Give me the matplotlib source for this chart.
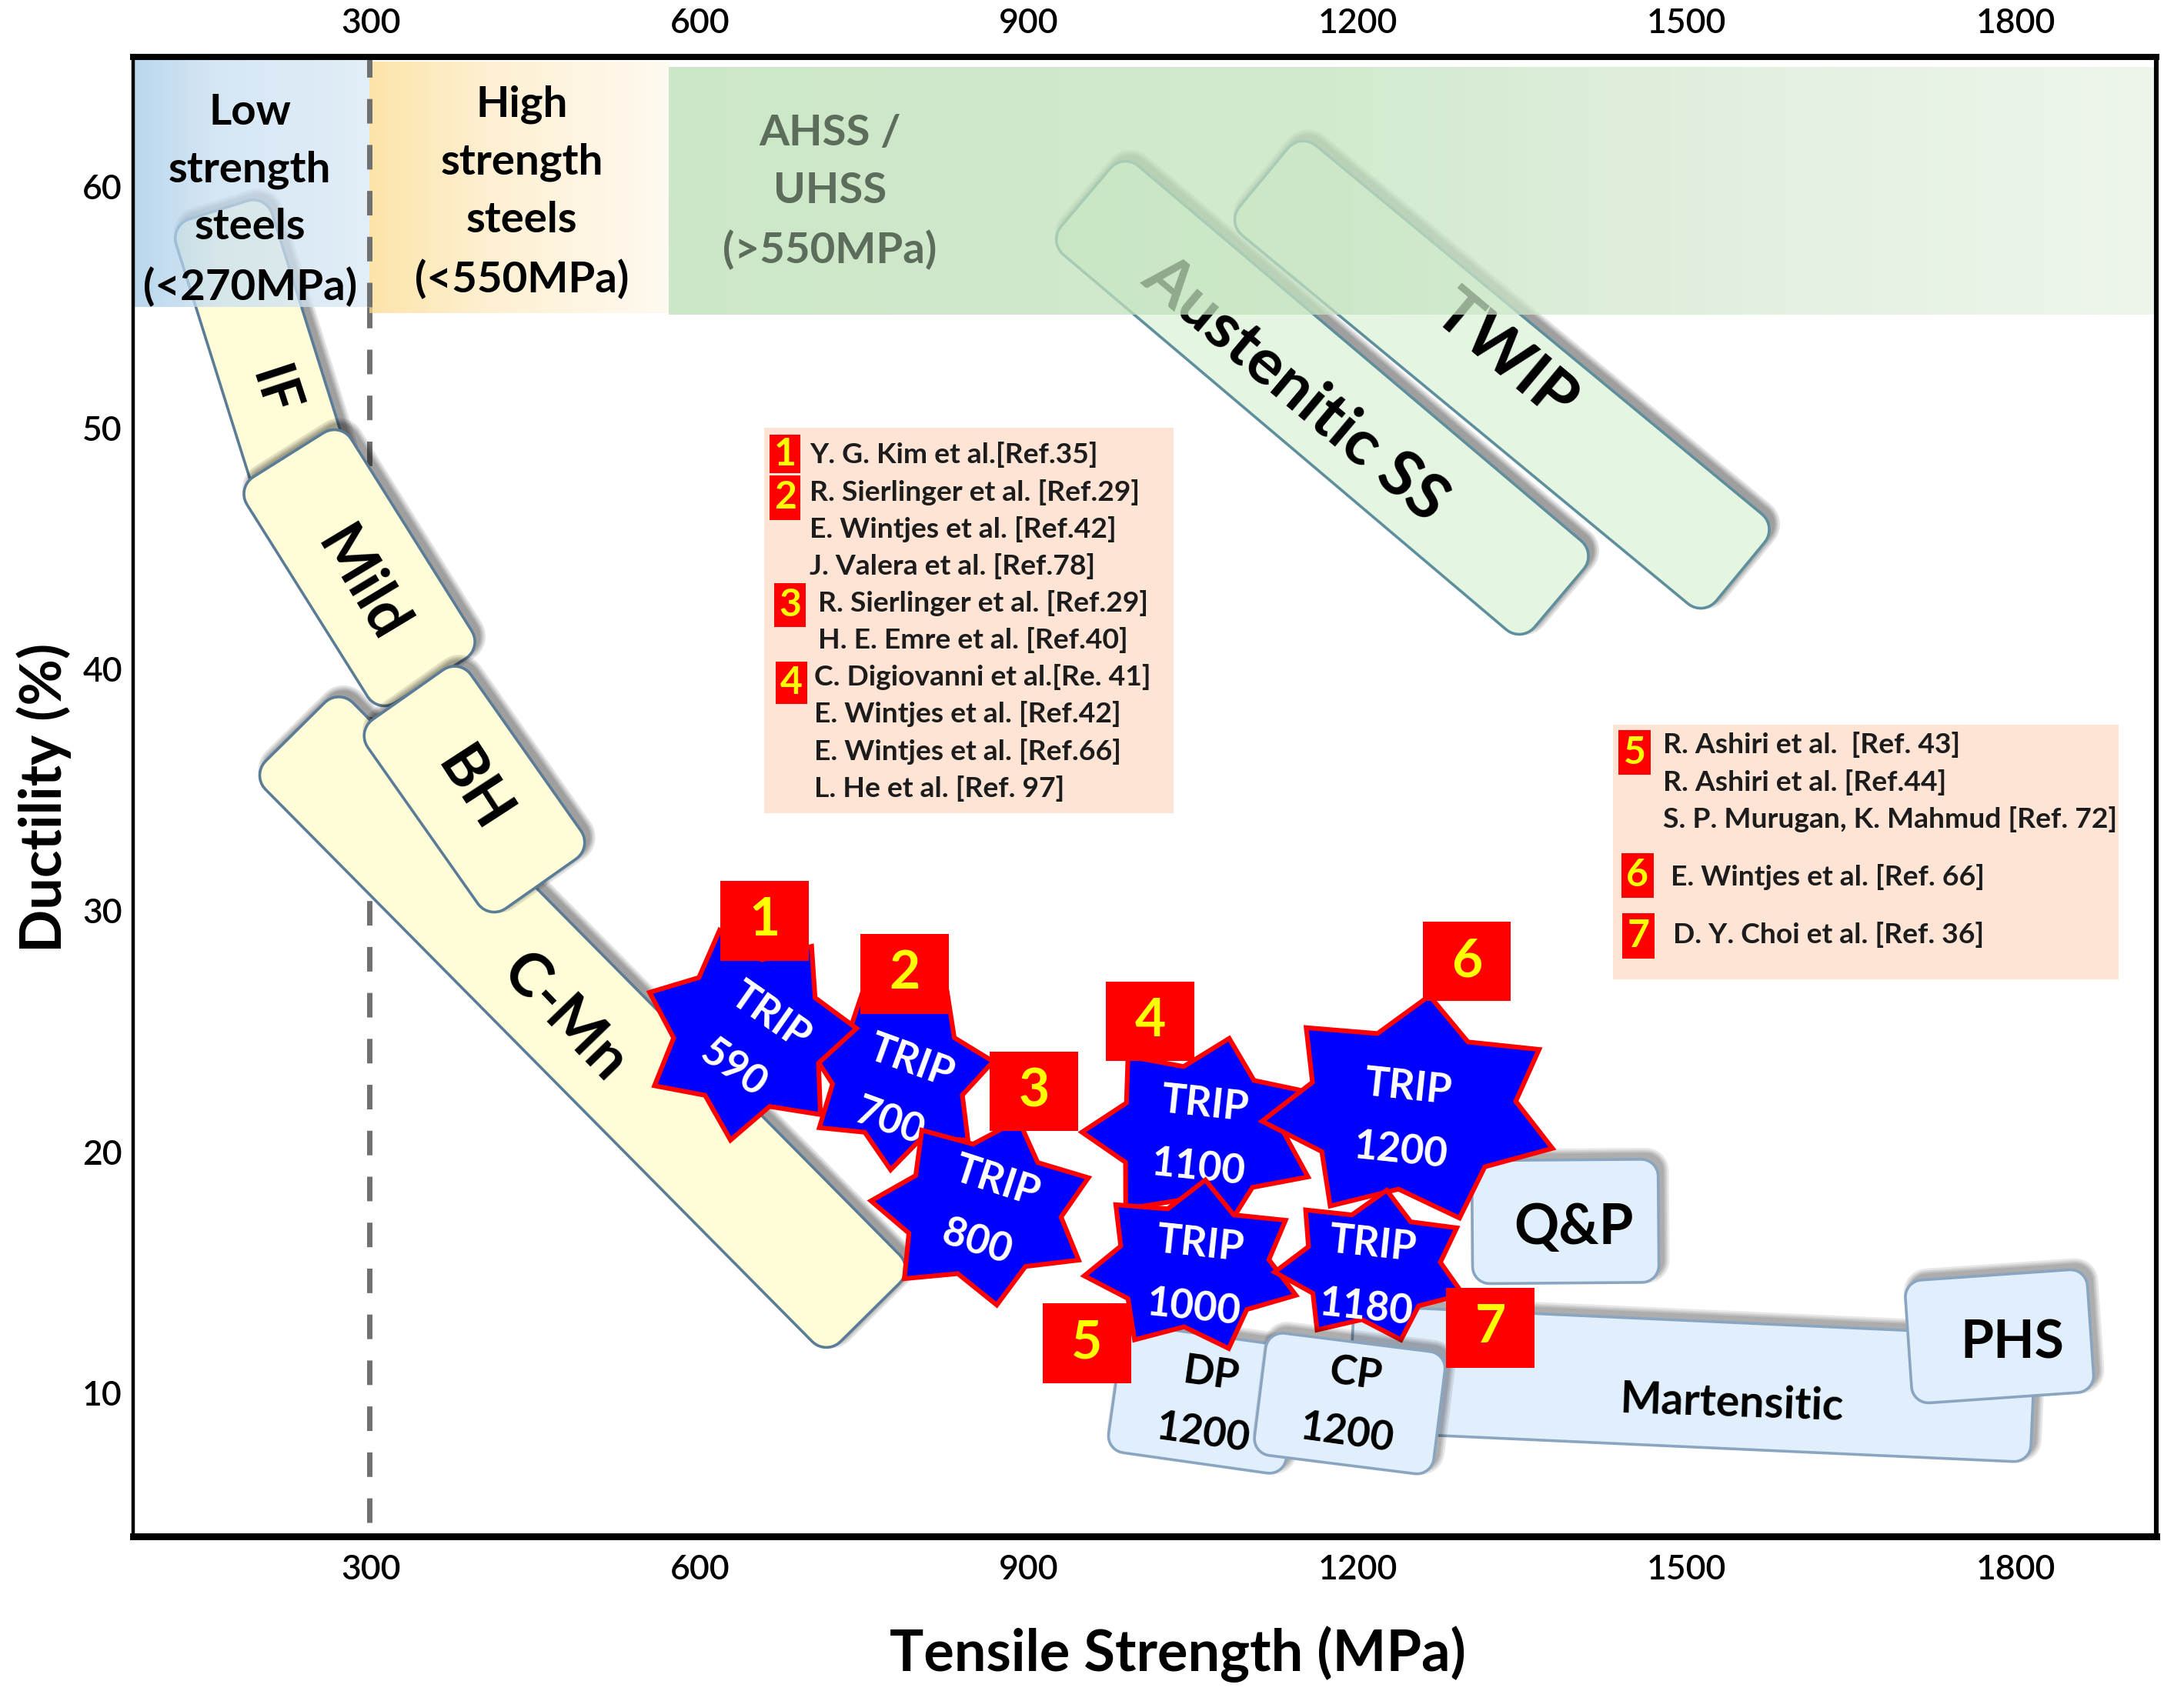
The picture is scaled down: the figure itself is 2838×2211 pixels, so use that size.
import numpy as np
import matplotlib
matplotlib.use("Agg")
import matplotlib.pyplot as plt
from matplotlib.colors import to_rgb
from matplotlib.patches import Polygon, Rectangle

plt.rcParams['font.family'] = ['Lato', 'DejaVu Sans']

# axis ticks
x_ticks = [300, 600, 900, 1200, 1500, 1800]
y_ticks = [10, 20, 30, 40, 50, 60]

# strength classes along the top of the chart
class_labels = ['Low\nstrength\nsteels\n(<270MPa)', 'High\nstrength\nsteels\n(<550MPa)',
                'AHSS /\nUHSS\n(>550MPa)']
class_from = [83.3, 298.5, 571.8]
class_to = [298.5, 571.8, 1928.3]
class_low = [55.0, 54.75, 54.7]
class_high = [65.3, 65.15, 64.95]
class_label_mpa = [189.5, 437.7, 718.7]
class_label_duct = [59.45, 59.77, 59.77]
split_mpa = 298.5

# steel families: centre line of each band, start and end (MPa, %)
steel_names = ['IF', 'Mild', 'C-Mn', 'BH', 'Austenitic SS', 'TWIP',
               'Martensitic', 'PHS', 'Q&P', 'DP\n1200', 'CP\n1200']
steel_mpa0 = [160.6, 224.7, 230.8, 333.6, 951.8, 1114.1, 1193.9, 1702.3, 1304.4, 978.8, 1110.9]
steel_duct0 = [59.03, 48.88, 37.40, 38.94, 59.55, 60.37, 11.02, 12.09, 17.08, 10.26, 10.03]
steel_mpa1 = [239.1, 354.1, 755.1, 455.0, 1383.6, 1549.0, 1815.9, 1868.3, 1474.3, 1140.8, 1274.4]
steel_duct1 = [47.69, 39.52, 13.34, 31.11, 42.94, 44.04, 9.74, 12.61, 17.14, 9.22, 9.10]
steel_label_mpa = [210.4, 290.8, 476.1, 393.0, 1142.8, 1334.4, 1541.3, 1796.8, 1396.9, 1062.4, 1194.0]
steel_label_duct = [51.49, 43.49, 25.52, 34.97, 51.61, 52.94, 9.57, 12.06, 16.82, 9.55, 9.55]

# TRIP grades (drawing order)
trip_names = ['TRIP\n700', 'TRIP\n590', 'TRIP\n800', 'TRIP\n1100', 'TRIP\n1000', 'TRIP\n1200', 'TRIP\n1180']
trip_mpa = [781.3, 644.7, 858.0, 1057.2, 1049.6, 1248.8, 1213.1]
trip_duct = [23.19, 24.88, 17.57, 20.76, 15.25, 21.75, 15.25]
trip_label_mpa = [782.6, 647.2, 861.8, 1057.2, 1053.4, 1242.4, 1210.5]
trip_label_duct = [22.49, 24.53, 17.51, 20.64, 14.84, 21.34, 14.84]

# numbered reference markers
marker_ids = ['1', '2', '3', '4', '5', '6', '7']
marker_mpa = [658.7, 786.4, 904.7, 1010.6, 953.1, 1299.4, 1321.0]
marker_duct = [29.57, 27.37, 22.50, 25.40, 12.06, 27.89, 12.70]

# reference lists
refs_a = ['Y. G. Kim et al.[Ref.35]', 'R. Sierlinger et al. [Ref.29]', 'E. Wintjes et al. [Ref.42]',
          'J. Valera et al. [Ref.78]', 'R. Sierlinger et al. [Ref.29]', 'H. E. Emre et al. [Ref.40]',
          'C. Digiovanni et al.[Re. 41]', 'E. Wintjes et al. [Ref.42]', 'E. Wintjes et al. [Ref.66]',
          'L. He et al. [Ref. 97]']
refs_a_mpa = [700.3, 700.3, 700.3, 700.3, 707.9, 707.9, 704.2, 704.2, 704.2, 704.2]
refs_a_duct = [48.88, 47.34, 45.81, 44.27, 42.74, 41.20, 39.66, 38.13, 36.59, 35.05]
refs_a_ids = ['1', '2', '3', '4']
refs_a_id_mpa = [677.6, 677.6, 682.1, 683.6]
refs_a_id_duct = [48.92, 47.11, 42.66, 39.43]
refs_a_id_h = [1.59, 1.86, 1.80, 1.74]

refs_b = ['R. Ashiri et al.  [Ref. 43]', 'R. Ashiri et al. [Ref.44]', 'S. P. Murugan, K. Mahmud [Ref. 72]',
          'E. Wintjes et al. [Ref. 66]', 'D. Y. Choi et al. [Ref. 36]']
refs_b_mpa = [1478.3, 1478.3, 1478.3, 1485.1, 1487.7]
refs_b_duct = [36.88, 35.31, 33.77, 31.39, 28.99]
refs_b_ids = ['5', '6', '7']
refs_b_id_mpa = [1452.6, 1455.1, 1455.8]
refs_b_id_duct = [36.54, 31.45, 28.94]

ref_box_a = (658.7, 1031.7, 34.04, 49.99)
ref_box_b = (1432.7, 1893.8, 27.14, 37.69)

# ---- styles ----
cream, green, blue = '#fffcd8', '#e4f6e1', '#e1eefb'
steel_thick = [131, 160, 160, 164, 151, 151, 164, 160, 160, 167, 160]
steel_face = [cream] * 4 + [green] * 2 + [blue] * 5
steel_edge = ['#5b7c96'] * 4 + ['#5f8f9c'] * 2 + ['#8aa5c0'] * 5
steel_fs = [26, 28, 28, 28, 30, 30, 20.5, 25, 26, 19, 19]
steel_rot = [-72, -59, -46, -57, -40, -40, -2, 0, 0, -8, -8]
steel_z = [2.0, 2.1, 2.2, 2.3, 2.4, 2.5, 4.0, 4.1, 4.2, 4.3, 6.0]
steel_rad = [26] * 6 + [22] * 5
steel_shadow = [0.11] * 6 + [0.09] * 5

trip_rx = [124, 140, 146, 155, 142, 195, 127]
trip_ry = [124, 140, 124, 127, 113, 149, 100]
trip_th0 = [8, 3, 20, 25, 32, 31.6, 30]
trip_rot = [-20, -35, -18, -6, -6, -6, -6]

fig = plt.figure(figsize=(14.19, 11.055), dpi=200)
ax = fig.add_axes([0.0611, 0.0968, 0.9262, 0.8697])
ax.set_xlim(83.3, 1928.3)
ax.set_ylim(4.06, 65.37)
ax.set_autoscale_on(False)
inv = ax.transData.inverted()
px = fig.dpi / 200.0


def rounded_rect(cx, cy, length, width, ang, r, n=10):
    hl, hw = length / 2, width / 2
    r = min(r, hl, hw)
    pts = []
    for sx, sy, a0 in [(hl - r, hw - r, 0), (-hl + r, hw - r, 90),
                       (-hl + r, -hw + r, 180), (hl - r, -hw + r, 270)]:
        t = np.radians(np.linspace(a0, a0 + 90, n))
        pts.append(np.column_stack([sx + r * np.cos(t), sy + r * np.sin(t)]))
    pts = np.vstack(pts)
    c, s = np.cos(ang), np.sin(ang)
    return pts @ np.array([[c, s], [-s, c]]) + [cx, cy]


def draw_box(i):
    p0 = ax.transData.transform((steel_mpa0[i], steel_duct0[i]))
    p1 = ax.transData.transform((steel_mpa1[i], steel_duct1[i]))
    d = p1 - p0
    L = np.hypot(*d)
    ang = np.arctan2(d[1], d[0])
    c = (p0 + p1) / 2
    w = steel_thick[i] * px
    r = steel_rad[i] * px
    z = steel_z[i]
    # soft shadow to the upper right
    for e in [16, 11, 7, 3]:
        pts = rounded_rect(c[0] + 6 * px, c[1] + 7 * px, L + e * px, w + e * px, ang, r + e * px / 2)
        ax.add_patch(Polygon(inv.transform(pts), closed=True, fc='black', ec='none',
                             alpha=steel_shadow[i], zorder=z - 0.01))
    pts = rounded_rect(c[0], c[1], L, w, ang, r)
    ax.add_patch(Polygon(inv.transform(pts), closed=True, fc=steel_face[i], ec=steel_edge[i],
                         lw=1.3, zorder=z))
    ax.text(steel_label_mpa[i], steel_label_duct[i], steel_names[i], fontsize=steel_fs[i],
            fontweight='bold', rotation=steel_rot[i], rotation_mode='anchor', ha='center',
            va='center', multialignment='center', linespacing=1.7, color='black', zorder=z + 0.05)


def draw_star(i):
    p = ax.transData.transform((trip_mpa[i], trip_duct[i]))
    k = np.arange(14)
    ang = np.radians(trip_th0[i] + k * 360 / 14)
    rr = np.where(k % 2 == 0, 1.0, 0.7)
    pts = np.column_stack([p[0] + trip_rx[i] * px * rr * np.cos(ang),
                           p[1] + trip_ry[i] * px * rr * np.sin(ang)])
    z = 5 + 0.1 * i
    ax.add_patch(Polygon(inv.transform(pts), closed=True, fc='#0000ff', ec='#ff0000',
                         lw=2.2, joinstyle='miter', zorder=z))
    ax.text(trip_label_mpa[i], trip_label_duct[i], trip_names[i], fontsize=19, fontweight='bold',
            color='white', rotation=trip_rot[i], rotation_mode='anchor', ha='center', va='center',
            multialignment='center', linespacing=1.85, zorder=z + 0.05)


def gradient_band(x0, x1, y0, y1, stops, alpha=0.75, z=3):
    xs = np.linspace(0, 1, 256)
    pos = [s[0] for s in stops]
    cols = np.array([to_rgb(s[1]) for s in stops])
    rgb = np.column_stack([np.interp(xs, pos, cols[:, j]) for j in range(3)])
    rgb = np.clip(1 - (1 - rgb) / alpha, 0, 1)
    img = np.zeros((1, 256, 4))
    img[0, :, :3] = rgb
    img[0, :, 3] = alpha
    ax.imshow(img, extent=(x0, x1, y0, y1), aspect='auto', interpolation='bilinear', zorder=z)


# dashed split line, lower part sits behind the steel bands
ax.plot([split_mpa, split_mpa], [4.64, class_low[0]], color='#707070', lw=2.5,
        ls=(0, (4.6, 4)), zorder=1)

for i in range(6):
    draw_box(i)

band_stops = [
    [(0, '#b9d7ee'), (0.35, '#d6e7f4'), (1, '#e2eef8')],
    [(0, '#fde4a9'), (0.4, '#fef0d2'), (1, '#fffaf1')],
    [(0, '#cde7c8'), (0.45, '#d3ead0'), (0.75, '#e4f1e1'), (1, '#eef6ec')],
]
for j in range(3):
    gradient_band(class_from[j], class_to[j], class_low[j], class_high[j], band_stops[j])
ax.set_xlim(83.3, 1928.3)
ax.set_ylim(4.06, 65.37)

ax.plot([split_mpa, split_mpa], [class_low[0], 65.37], color='#707070', lw=2.5,
        ls=(0, (4.6, 4)), zorder=3.1)

class_colors = ['black', 'black', '#5d6d5b']
for j in range(3):
    ax.text(class_label_mpa[j], class_label_duct[j], class_labels[j], fontsize=20.3,
            fontweight='bold', ha='center', va='center', multialignment='center',
            linespacing=1.6, color=class_colors[j], zorder=3.2)

# reference boxes
for (x0, x1, y0, y1) in [ref_box_a, ref_box_b]:
    ax.add_patch(Rectangle((x0, y0), x1 - x0, y1 - y0, fc='#fde4d5', ec='none', zorder=3.5))
for t, x, y in zip(refs_a, refs_a_mpa, refs_a_duct):
    ax.text(x, y, t, fontsize=13.4, fontweight='bold', color='#1c1c1c', ha='left', va='center', zorder=3.6)
for t, x, y in zip(refs_b, refs_b_mpa, refs_b_duct):
    ax.text(x, y, t, fontsize=13.4, fontweight='bold', color='#1c1c1c', ha='left', va='center', zorder=3.6)
for t, x, y, h in zip(refs_a_ids, refs_a_id_mpa, refs_a_id_duct, refs_a_id_h):
    ax.add_patch(Rectangle((x - 14.4, y - h / 2), 28.7, h, fc='#ff0000', ec='none', zorder=3.6))
    ax.text(x, y, t, fontsize=18, fontweight='bold', color='#ffff00', ha='center', va='center', zorder=3.7)
for t, x, y in zip(refs_b_ids, refs_b_id_mpa, refs_b_id_duct):
    ax.add_patch(Rectangle((x - 14.7, y - 0.93), 29.4, 1.86, fc='#ff0000', ec='none', zorder=3.6))
    ax.text(x, y, t, fontsize=18, fontweight='bold', color='#ffff00', ha='center', va='center', zorder=3.7)

# blue steel boxes before the stars
for i in range(6, 10):
    draw_box(i)
for i in range(len(trip_names)):
    draw_star(i)
draw_box(10)

# big markers
for t, x, y in zip(marker_ids, marker_mpa, marker_duct):
    ax.add_patch(Rectangle((x - 40.2, y - 1.65), 80.5, 3.31, fc='#ff0000', ec='none', zorder=7))
    ax.text(x, y, t, fontsize=25, fontweight='bold', color='#ffff00', ha='center', va='center', zorder=7.1)

# axes
ax.set_xticks(x_ticks)
ax.set_yticks(y_ticks)
ax.tick_params(length=0, labelsize=16)
ax.tick_params(axis='x', top=True, labeltop=True, pad=8.3)
ax.tick_params(axis='y', pad=5.2)
for t in ax.xaxis.get_major_ticks() + ax.yaxis.get_major_ticks():
    t.label1.set_fontweight('semibold')
    t.label2.set_fontweight('semibold')
for side, lw in [('top', 2.9), ('bottom', 3.2), ('left', 1.6), ('right', 2.2)]:
    ax.spines[side].set_linewidth(lw)
    ax.spines[side].set_zorder(10)

fig.text(0.5394, 0.0176, 'Tensile Strength (MPa)', fontsize=26.6, fontweight='bold',
         ha='center', va='baseline')
fig.text(0.020, 0.531, 'Ductility (%)', fontsize=26.6, fontweight='bold', rotation=90,
         ha='center', va='center')

fig.savefig('out.png', dpi=200)
